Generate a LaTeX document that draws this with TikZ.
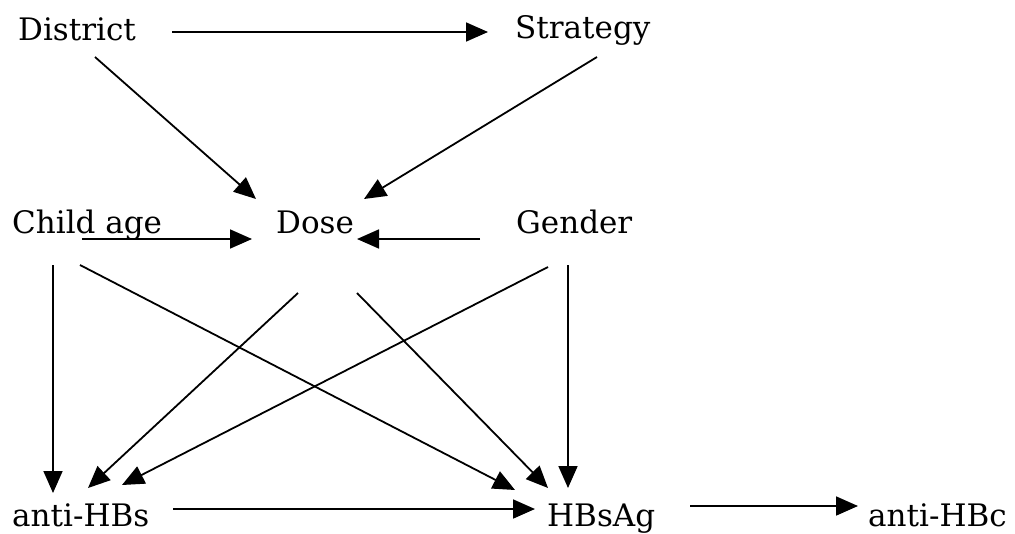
\documentclass[tikz,border=0pt]{standalone}
\usepackage{fontspec}
\setmainfont{DejaVu Serif}
\usetikzlibrary{arrows.meta}
\begin{document}
\begin{tikzpicture}[x=1pt,y=-1pt,
  lbl/.style={anchor=base west,inner sep=0pt,font=\fontsize{31}{31}\selectfont},
  arr/.style={line width=1.8pt,-{Triangle[length=22pt,width=19pt]}}]
\useasboundingbox[fill=white] (0,0) rectangle (1015,533);
\node[lbl] (district) at (18,40) {District};
\node[lbl] (strategy) at (515,38) {Strategy};
\node[lbl] (child) at (12,233) {Child age};
\node[lbl] (dose) at (276,233) {Dose};
\node[lbl] (gender) at (516,233) {Gender};
\node[lbl] (antihbs) at (12,526) {anti-HBs};
\node[lbl] (hbsag) at (547,526) {HBsAg};
\node[lbl] (antihbc) at (868,526) {anti-HBc};
% row 1
\draw[arr] ([shift={(154,-8)}]district.base west) -- ([shift={(-27,-6)}]strategy.base west);
\draw[arr] ([shift={(77,17)}]district.base west) -- ([shift={(-20,-34)}]dose.base west);
\draw[arr] ([shift={(82,19)}]strategy.base west) -- ([shift={(88,-34)}]dose.base west);
% row 2
\draw[arr] ([shift={(70,6)}]child.base west) -- ([shift={(-24,6)}]dose.base west);
\draw[arr] ([shift={(-36,6)}]gender.base west) -- ([shift={(81,6)}]dose.base west);
% to row 3
\draw[arr] ([shift={(41,32)}]child.base west) -- ([shift={(41,-33)}]antihbs.base west);
\draw[arr] ([shift={(68,32)}]child.base west) -- ([shift={(-32,-36)}]hbsag.base west);
\draw[arr] ([shift={(22,60)}]dose.base west) -- ([shift={(76,-38)}]antihbs.base west);
\draw[arr] ([shift={(81,60)}]dose.base west) -- ([shift={(1,-38)}]hbsag.base west);
\draw[arr] ([shift={(32,34)}]gender.base west) -- ([shift={(110,-41)}]antihbs.base west);
\draw[arr] ([shift={(52,32)}]gender.base west) -- ([shift={(21,-38)}]hbsag.base west);
% row 3
\draw[arr] ([shift={(161,-17)}]antihbs.base west) -- ([shift={(-12,-17)}]hbsag.base west);
\draw[arr] ([shift={(143,-20)}]hbsag.base west) -- ([shift={(-10,-20)}]antihbc.base west);
\end{tikzpicture}
\end{document}
